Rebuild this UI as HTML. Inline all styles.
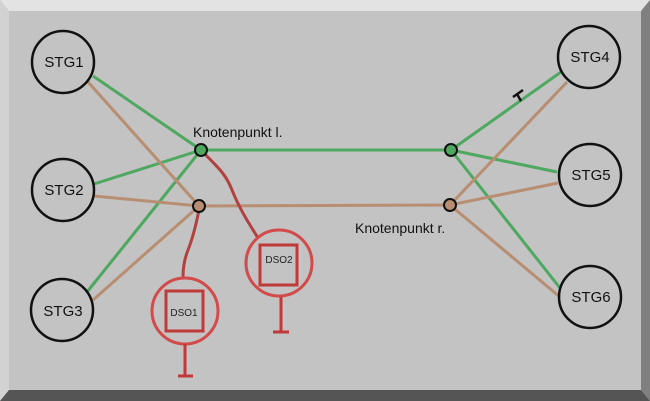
<!DOCTYPE html>
<html><head><meta charset="utf-8"><style>
html,body{margin:0;padding:0;background:#c3c3c3}
svg{display:block}
text{font-family:"Liberation Sans",sans-serif}
</style></head><body>
<svg width="650" height="401" viewBox="0 0 650 401" xmlns="http://www.w3.org/2000/svg">
<rect width="650" height="401" fill="#c3c3c3"/>
<polygon points="0,0 650,0 641,11 9,11" fill="#e3e3e3"/>
<polygon points="0,0 9,11 9,390 0,401" fill="#d2d2d2"/>
<polygon points="650,0 650,401 641,390 641,11" fill="#808080"/>
<polygon points="0,401 650,401 641,390 9,390" fill="#555555"/>
<g stroke-width="3" fill="none">
<!-- left green -->
<line x1="93" y1="76" x2="201" y2="150" stroke="#4ea860"/>
<line x1="94" y1="184" x2="201" y2="150" stroke="#4ea860"/>
<line x1="87" y1="292" x2="201" y2="150" stroke="#4ea860"/>
<!-- left brown -->
<line x1="88" y1="82" x2="199" y2="206" stroke="#b88e72"/>
<line x1="94" y1="196" x2="199" y2="206" stroke="#b88e72"/>
<line x1="93" y1="300" x2="199" y2="206" stroke="#b88e72"/>
<!-- middle -->
<line x1="201" y1="150" x2="451" y2="150" stroke="#4ea860"/>
<line x1="199" y1="206" x2="450" y2="205" stroke="#b88e72"/>
<!-- right green -->
<line x1="451" y1="150" x2="561" y2="72" stroke="#4ea860"/>
<line x1="451" y1="150" x2="557" y2="172" stroke="#4ea860"/>
<line x1="451" y1="150" x2="560" y2="288" stroke="#4ea860"/>
<!-- right brown -->
<line x1="450" y1="205" x2="567" y2="82" stroke="#b88e72"/>
<line x1="450" y1="205" x2="558" y2="183" stroke="#b88e72"/>
<line x1="450" y1="205" x2="560" y2="297" stroke="#b88e72"/>
</g>
<!-- small T mark -->
<g stroke="#111" stroke-width="2.5"><line x1="513" y1="97" x2="523" y2="90"/><line x1="517" y1="94" x2="521" y2="101"/></g>
<!-- red wires -->
<path d="M203,152 C215,165 225,172 232,190 C240,210 250,225 258,238" stroke="#b0413f" stroke-width="3" fill="none"/>
<path d="M199,210 C196,225 192,240 188,250 C184,260 183,268 183,277" stroke="#b0413f" stroke-width="3" fill="none"/>
<!-- nodes -->
<circle cx="201" cy="150" r="6" fill="#4ea860" stroke="#111" stroke-width="2"/>
<circle cx="199" cy="206" r="6" fill="#b88e72" stroke="#111" stroke-width="2"/>
<circle cx="451" cy="150" r="6" fill="#4ea860" stroke="#111" stroke-width="2"/>
<circle cx="450" cy="205" r="6" fill="#b88e72" stroke="#111" stroke-width="2"/>
<!-- STG circles -->
<g fill="none" stroke="#111" stroke-width="2.5">
<circle cx="63" cy="62" r="31"/><circle cx="63" cy="190" r="31"/><circle cx="62" cy="310" r="31"/>
<circle cx="589" cy="57" r="31"/><circle cx="590" cy="175" r="31"/><circle cx="590" cy="297" r="31"/>
</g>
<g font-size="15" fill="#111" text-anchor="middle">
<text x="64" y="67">STG1</text><text x="64" y="195">STG2</text><text x="63" y="316">STG3</text>
<text x="590" y="62">STG4</text><text x="591" y="180">STG5</text><text x="591" y="302">STG6</text>
</g>
<text x="193" y="137" font-size="14" fill="#111">Knotenpunkt l.</text>
<text x="355" y="233" font-size="14" fill="#111">Knotenpunkt r.</text>
<!-- DSO -->
<g fill="none" stroke="#c03a3a" stroke-width="3">
<circle cx="185" cy="311" r="33" stroke="#d24a4a"/>
<rect x="166" y="291" width="37" height="40"/>
<line x1="185" y1="344" x2="185" y2="376"/><line x1="178" y1="376" x2="193" y2="376"/>
<circle cx="279" cy="263" r="33" stroke="#d24a4a"/>
<rect x="260" y="245" width="37" height="40"/>
<line x1="281" y1="297" x2="281" y2="332"/><line x1="273" y1="332" x2="289" y2="332"/>
</g>
<text x="184" y="316" font-size="10" fill="#222" text-anchor="middle">DSO1</text>
<text x="279" y="263" font-size="10" fill="#222" text-anchor="middle">DSO2</text>
</svg>
</body></html>
